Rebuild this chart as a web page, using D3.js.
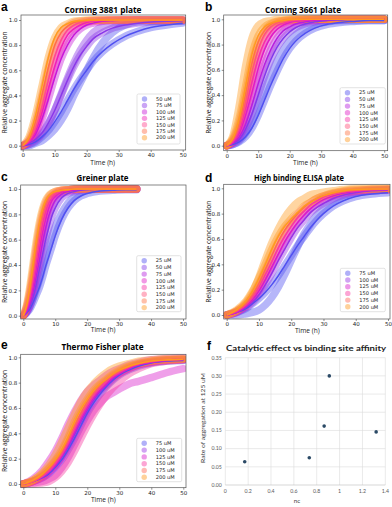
<!DOCTYPE html>
<html>
<head>
<meta charset="utf-8">
<script src="https://cdn.jsdelivr.net/npm/d3@7"></script>
<style>
body { margin: 0; background: #fff; }
svg { display: block; }
</style>
</head>
<body>
<svg id="fig" width="392" height="507"></svg>
<script>
// ---- data ----

// a: Corning 3881 plate
const concA = ["50 uM", "75 uM", "100 uM", "125 uM", "150 uM", "175 uM", "200 uM"];
const timeA = [0, 2, 4, 6, 8, 10, 12, 14, 16, 18, 20, 22, 25, 28, 32, 36, 40, 45, 50];
const fitA = [
	[0.00, 0.01, 0.03, 0.07, 0.12, 0.19, 0.27, 0.36, 0.45, 0.53, 0.60, 0.67, 0.75, 0.81, 0.87, 0.91, 0.94, 0.96, 0.975],
	[0.00, 0.02, 0.05, 0.10, 0.18, 0.28, 0.40, 0.52, 0.63, 0.72, 0.79, 0.85, 0.90, 0.935, 0.96, 0.975, 0.985, 0.99, 0.995],
	[0.00, 0.03, 0.09, 0.21, 0.37, 0.54, 0.69, 0.80, 0.88, 0.93, 0.96, 0.975, 0.99, 0.995, 1, 1, 1, 1, 1],
	[0.00, 0.03, 0.11, 0.26, 0.45, 0.63, 0.78, 0.88, 0.93, 0.96, 0.98, 0.99, 0.995, 1, 1, 1, 1, 1, 1],
	[0.00, 0.04, 0.14, 0.31, 0.52, 0.71, 0.84, 0.92, 0.96, 0.98, 0.99, 0.995, 1, 1, 1, 1, 1, 1, 1],
	[0.00, 0.05, 0.19, 0.40, 0.62, 0.80, 0.90, 0.95, 0.98, 0.99, 0.995, 1, 1, 1, 1, 1, 1, 1, 1],
	[0.00, 0.07, 0.24, 0.47, 0.70, 0.86, 0.94, 0.97, 0.99, 0.995, 1, 1, 1, 1, 1, 1, 1, 1, 1]
];
const obsA50 = [0.00, 0.00, 0.02, 0.04, 0.08, 0.13, 0.20, 0.29, 0.40, 0.50, 0.60, 0.70, 0.82, 0.90, 0.96, 0.985, 0.99, 0.99, 0.99];
const obsA75 = [0.00, 0.01, 0.04, 0.09, 0.17, 0.28, 0.41, 0.54, 0.66, 0.76, 0.84, 0.90, 0.95, 0.975, 0.99, 1, 1, 1, 1];
const obsA = [[obsA50], [obsA75], null, null, null, null, null];

// b: Corning 3661 plate
const concB = ["25 uM", "50 uM", "75 uM", "100 uM", "125 uM", "150 uM", "175 uM", "200 uM"];
const timeB = [0, 2, 4, 6, 8, 10, 12, 14, 16, 18, 20, 22, 25, 28, 32, 36, 40, 45, 50];
const fitB = [
	[0.00, 0.01, 0.03, 0.07, 0.14, 0.24, 0.36, 0.48, 0.59, 0.69, 0.77, 0.83, 0.89, 0.93, 0.96, 0.975, 0.983, 0.99, 0.99],
	[0.00, 0.02, 0.05, 0.13, 0.25, 0.40, 0.55, 0.68, 0.78, 0.85, 0.90, 0.935, 0.965, 0.98, 0.99, 0.995, 1, 1, 1],
	[0.00, 0.02, 0.07, 0.17, 0.32, 0.49, 0.64, 0.76, 0.85, 0.91, 0.94, 0.965, 0.98, 0.99, 0.995, 1, 1, 1, 1],
	[0.00, 0.03, 0.10, 0.24, 0.42, 0.61, 0.76, 0.86, 0.92, 0.955, 0.975, 0.985, 0.99, 0.995, 1, 1, 1, 1, 1],
	[0.00, 0.03, 0.12, 0.29, 0.50, 0.69, 0.82, 0.90, 0.95, 0.97, 0.985, 0.99, 0.995, 1, 1, 1, 1, 1, 1],
	[0.00, 0.04, 0.15, 0.35, 0.58, 0.76, 0.88, 0.94, 0.97, 0.985, 0.99, 0.995, 1, 1, 1, 1, 1, 1, 1],
	[0.00, 0.05, 0.18, 0.41, 0.65, 0.82, 0.91, 0.96, 0.98, 0.99, 0.995, 1, 1, 1, 1, 1, 1, 1, 1],
	[0.00, 0.06, 0.22, 0.47, 0.72, 0.87, 0.94, 0.97, 0.985, 0.99, 1, 1, 1, 1, 1, 1, 1, 1, 1]
];
const obsB25 = [0.00, 0.01, 0.04, 0.10, 0.19, 0.31, 0.44, 0.56, 0.67, 0.76, 0.83, 0.88, 0.93, 0.96, 0.98, 0.99, 0.99, 0.99, 0.99];
const obsB200 = [0.00, 0.08, 0.32, 0.63, 0.85, 0.95, 0.98, 0.99, 1, 1, 1, 1, 1, 1, 1, 1, 1, 1, 1];
const obsB = [[obsB25], null, null, null, null, null, null, [obsB200]];

// c: Greiner plate
const concC = ["25 uM", "50 uM", "75 uM", "100 uM", "125 uM", "150 uM", "175 uM", "200 uM"];
const timeC = [0, 1, 2, 3, 4, 5, 6, 7, 8, 9, 10, 12, 14, 16, 18, 20, 24, 28, 32, 35.5];
const fitC = [
	[0.00, 0.02, 0.05, 0.10, 0.16, 0.22, 0.30, 0.39, 0.47, 0.55, 0.63, 0.76, 0.85, 0.91, 0.945, 0.965, 0.985, 0.99, 0.995, 0.995],
	[0.00, 0.02, 0.07, 0.14, 0.24, 0.36, 0.48, 0.60, 0.70, 0.79, 0.85, 0.93, 0.965, 0.98, 0.99, 0.995, 1, 1, 1, 1],
	[0.00, 0.03, 0.09, 0.18, 0.30, 0.43, 0.57, 0.69, 0.79, 0.86, 0.91, 0.96, 0.98, 0.99, 0.995, 1, 1, 1, 1, 1],
	[0.00, 0.04, 0.11, 0.22, 0.36, 0.51, 0.65, 0.76, 0.85, 0.91, 0.94, 0.975, 0.99, 0.995, 1, 1, 1, 1, 1, 1],
	[0.00, 0.05, 0.14, 0.27, 0.42, 0.58, 0.72, 0.82, 0.89, 0.93, 0.96, 0.985, 0.99, 1, 1, 1, 1, 1, 1, 1],
	[0.00, 0.06, 0.16, 0.31, 0.48, 0.64, 0.77, 0.86, 0.92, 0.95, 0.97, 0.99, 0.995, 1, 1, 1, 1, 1, 1, 1],
	[0.00, 0.07, 0.19, 0.35, 0.53, 0.69, 0.81, 0.89, 0.94, 0.965, 0.98, 0.99, 0.995, 1, 1, 1, 1, 1, 1, 1],
	[0.00, 0.08, 0.22, 0.40, 0.58, 0.73, 0.84, 0.91, 0.95, 0.97, 0.98, 0.99, 0.995, 1, 1, 1, 1, 1, 1, 1]
];
const obsC25 = [0.00, 0.03, 0.07, 0.13, 0.20, 0.28, 0.37, 0.46, 0.55, 0.63, 0.70, 0.81, 0.89, 0.94, 0.97, 0.99, 1.0, 1.01, 1.01, 1.0];
const obsC = [[obsC25], null, null, null, null, null, null, null];

// d: High binding ELISA plate
const concD = ["75 uM", "100 uM", "125 uM", "150 uM", "175 uM", "200 uM"];
const timeD = [0, 3, 6, 8, 10, 12, 14, 16, 18, 20, 22, 24, 26, 28, 30, 33, 36, 40, 45, 50];
const fitD = [
	[0.00, 0.02, 0.05, 0.09, 0.13, 0.18, 0.24, 0.31, 0.39, 0.47, 0.55, 0.62, 0.69, 0.75, 0.80, 0.86, 0.90, 0.935, 0.955, 0.965],
	[0.00, 0.02, 0.06, 0.10, 0.16, 0.24, 0.33, 0.43, 0.52, 0.61, 0.69, 0.75, 0.81, 0.85, 0.88, 0.92, 0.945, 0.965, 0.98, 0.985],
	[0.00, 0.02, 0.07, 0.12, 0.19, 0.28, 0.38, 0.48, 0.58, 0.66, 0.73, 0.79, 0.84, 0.88, 0.91, 0.94, 0.96, 0.975, 0.985, 0.99],
	[0.00, 0.03, 0.08, 0.14, 0.22, 0.32, 0.42, 0.53, 0.62, 0.70, 0.77, 0.82, 0.87, 0.90, 0.93, 0.955, 0.97, 0.98, 0.99, 0.99],
	[0.00, 0.03, 0.09, 0.16, 0.25, 0.36, 0.47, 0.58, 0.67, 0.74, 0.80, 0.85, 0.89, 0.92, 0.94, 0.96, 0.975, 0.985, 0.99, 0.995],
	[0.00, 0.04, 0.11, 0.19, 0.29, 0.40, 0.52, 0.62, 0.70, 0.76, 0.81, 0.86, 0.89, 0.92, 0.94, 0.965, 0.98, 0.99, 0.995, 0.995]
];
const obsD75 = [0.00, 0.00, 0.01, 0.02, 0.04, 0.08, 0.14, 0.22, 0.32, 0.43, 0.54, 0.64, 0.72, 0.79, 0.84, 0.90, 0.94, 0.97, 0.98, 0.99];
const obsD200 = [0.00, 0.03, 0.10, 0.18, 0.30, 0.44, 0.57, 0.68, 0.77, 0.84, 0.89, 0.92, 0.95, 0.96, 0.97, 0.98, 0.99, 1, 1, 1];
const obsD = [[obsD75], null, null, null, null, [obsD200]];

// e: Thermo Fisher plate
const concE = ["75 uM", "100 uM", "125 uM", "150 uM", "175 uM", "200 uM"];
const timeE = [0, 3, 6, 8, 10, 12, 14, 16, 18, 20, 22, 24, 26, 28, 30, 33, 36, 40, 45, 50];
const fitE = [
	[0.00, 0.02, 0.05, 0.08, 0.13, 0.19, 0.27, 0.36, 0.46, 0.56, 0.64, 0.71, 0.77, 0.82, 0.86, 0.90, 0.93, 0.955, 0.97, 0.975],
	[0.00, 0.02, 0.05, 0.09, 0.14, 0.21, 0.29, 0.39, 0.49, 0.58, 0.66, 0.73, 0.78, 0.83, 0.87, 0.91, 0.94, 0.96, 0.975, 0.98],
	[0.00, 0.02, 0.06, 0.10, 0.15, 0.22, 0.31, 0.41, 0.51, 0.60, 0.68, 0.74, 0.79, 0.84, 0.87, 0.91, 0.94, 0.96, 0.975, 0.98],
	[0.00, 0.02, 0.06, 0.10, 0.16, 0.23, 0.32, 0.43, 0.53, 0.62, 0.70, 0.76, 0.81, 0.85, 0.88, 0.92, 0.945, 0.965, 0.98, 0.985],
	[0.00, 0.02, 0.07, 0.12, 0.18, 0.25, 0.35, 0.46, 0.56, 0.65, 0.72, 0.78, 0.82, 0.86, 0.89, 0.925, 0.95, 0.97, 0.98, 0.985],
	[0.00, 0.03, 0.08, 0.13, 0.19, 0.27, 0.37, 0.49, 0.59, 0.67, 0.74, 0.79, 0.83, 0.87, 0.90, 0.93, 0.95, 0.97, 0.98, 0.985]
];
const obsE125Lead = [0.00, 0.04, 0.11, 0.18, 0.26, 0.36, 0.47, 0.57, 0.66, 0.73, 0.78, 0.82, 0.86, 0.89, 0.91, 0.94, 0.96, 0.98, 0.99, 1.0];
const obsE125Lag = [0.00, 0.01, 0.02, 0.04, 0.07, 0.13, 0.21, 0.31, 0.41, 0.50, 0.58, 0.64, 0.69, 0.72, 0.75, 0.79, 0.81, 0.84, 0.88, 0.91];
const obsE150Lag = [0.00, 0.00, 0.01, 0.02, 0.05, 0.10, 0.17, 0.26, 0.36, 0.46, 0.55, 0.63, 0.70, 0.76, 0.81, 0.87, 0.91, 0.95, 0.97, 0.98];
const obsE200 = [0.00, 0.03, 0.09, 0.15, 0.23, 0.33, 0.44, 0.55, 0.65, 0.73, 0.79, 0.84, 0.88, 0.91, 0.93, 0.95, 0.97, 0.98, 0.99, 0.99];
const obsE = [null, null, [obsE125Lead, obsE125Lag], [obsE150Lag], null, [obsE200]];

// f: catalytic effect vs binding site affinity
const ncF = [0.17, 0.735, 0.865, 0.91, 1.32];
const rateF = [0.064, 0.075, 0.162, 0.30, 0.146];
const xTicksF = [0, 0.2, 0.4, 0.6, 0.8, 1, 1.2, 1.4];
const yTicksF = [0, 0.05, 0.10, 0.15, 0.20, 0.25, 0.30, 0.35];

const timeTicks = [0, 10, 20, 30, 40, 50];
const fracTicks = [0, 0.2, 0.4, 0.6, 0.8, 1.0];

// ---- drawing ----
const fig = d3.select("#fig");
const ramp = d3.piecewise(d3.interpolateRgb, ["#5050f0", "#8a38e8", "#c818d8", "#f020b8", "#ff4890", "#ff6c48", "#ff9a20"]);
const sans = "'Open Sans', 'Noto Sans', sans-serif";

function panelLetter(txt, x, y) {
	fig.append("text").attr("x", x).attr("y", y)
		.attr("font-family", "'Liberation Sans', Arial, sans-serif")
		.attr("font-weight", "bold").attr("font-size", 12).text(txt);
}

//draws one kinetics panel: scatter bands, fitted curves, frame, axes and legend
function drawKinetics(p) {
	const g = fig.append("g");
	const x = d3.scaleLinear().domain([0, 50]).range([p.x0, p.x50]);
	const y = d3.scaleLinear().domain([0, 1]).range([p.y0, p.y1]);
	const n = p.conc.length;
	const col = i => ramp(i / (n - 1));

	g.append("clipPath").attr("id", "clip" + p.letter)
		.append("rect").attr("x", p.left).attr("y", p.top)
		.attr("width", p.right - p.left).attr("height", p.bottom - p.top);

	const line = d3.line()
		.x((d, i) => x(p.time[i]))
		.y(d => y(d))
		.curve(d3.curveMonotoneX);

	const plot = g.append("g").attr("clip-path", `url(#clip${p.letter})`);

	//scatter clouds as wide translucent bands
	p.fit.forEach((vals, i) => {
		const reps = [vals].concat(p.obs[i] || []);
		reps.forEach(r => {
			plot.append("path").attr("d", line(r))
				.attr("fill", "none").attr("stroke", col(i))
				.attr("stroke-opacity", 0.42)
				.attr("stroke-width", p.band)
				.attr("stroke-linecap", "round").attr("stroke-linejoin", "round");
		});
	});

	//fitted curves
	p.fit.forEach((vals, i) => {
		plot.append("path").attr("d", line(vals))
			.attr("fill", "none").attr("stroke", col(i)).attr("stroke-width", 1.5);
	});

	//frame
	g.append("rect").attr("x", p.left).attr("y", p.top)
		.attr("width", p.right - p.left).attr("height", p.bottom - p.top)
		.attr("fill", "none").attr("stroke", "#555").attr("stroke-width", 0.7);

	const ax = g.append("g").attr("transform", `translate(0,${p.bottom})`)
		.call(d3.axisBottom(x).tickValues(timeTicks).tickSize(2).tickPadding(1.5));
	const ay = g.append("g").attr("transform", `translate(${p.left},0)`)
		.call(d3.axisLeft(y).tickValues(fracTicks).tickFormat(d3.format(".1f")).tickSize(2).tickPadding(1.5));
	[ax, ay].forEach(a => {
		a.select(".domain").remove();
		a.selectAll("line").attr("stroke", "#444").attr("stroke-width", 0.6);
		a.selectAll("text").attr("font-size", 5.5).attr("font-family", "'DejaVu Sans', sans-serif").attr("fill", "#222");
	});

	panelLetter(p.letter, p.letterX, p.letterY);

	g.append("text").attr("x", p.titleX).attr("y", p.titleY)
		.attr("text-anchor", "middle").attr("font-family", sans)
		.attr("font-weight", "bold").attr("font-size", 8.5)
		.attr("textLength", p.titleW).attr("lengthAdjust", "spacingAndGlyphs")
		.text(p.title);

	g.append("text").attr("x", (p.x0 + p.x50) / 2).attr("y", p.xLabelY)
		.attr("text-anchor", "middle").attr("font-family", sans)
		.attr("font-size", 6.6).attr("fill", "#222").text("Time (h)");

	g.append("text")
		.attr("transform", `translate(${p.yLabelX},${(p.top + p.bottom) / 2}) rotate(-90)`)
		.attr("text-anchor", "middle").attr("font-family", sans)
		.attr("font-size", 6.4).attr("fill", "#222")
		.attr("textLength", 102).attr("lengthAdjust", "spacingAndGlyphs")
		.text("Relative aggregate concentration");

	//legend
	const lg = g.append("g");
	lg.append("rect").attr("x", p.legX).attr("y", p.legY)
		.attr("width", p.legW).attr("height", p.legH).attr("rx", 1.5)
		.attr("fill", "#fff").attr("fill-opacity", 0.85)
		.attr("stroke", "#d0d0d0").attr("stroke-width", 0.6);
	const rows = lg.selectAll("g.row").data(p.conc).join("g")
		.attr("transform", (d, i) => `translate(${p.legX}, ${p.legY + 5 + i * p.legStep})`);
	rows.append("circle").attr("cx", 7.5).attr("cy", 0).attr("r", 2.7)
		.attr("fill", (d, i) => col(i)).attr("fill-opacity", 0.45);
	rows.append("text").attr("x", 19).attr("y", 0).attr("dy", "0.35em")
		.attr("font-family", "'DejaVu Sans', sans-serif").attr("font-size", 5.1)
		.attr("fill", "#222").text(d => d);
}

drawKinetics({letter: "a", title: "Corning 3881 plate", conc: concA, time: timeA, fit: fitA, obs: obsA,
	left: 21, right: 185.7, top: 15, bottom: 150, x0: 22.7, x50: 182.7, y0: 145.7, y1: 20,
	letterX: 1, letterY: 11, titleX: 103, titleY: 12.5, titleW: 77, xLabelY: 165, yLabelX: 6.5,
	legX: 137, legY: 94, legW: 43, legH: 50, legStep: 6.45, band: 7.5});

drawKinetics({letter: "b", title: "Corning 3661 plate", conc: concB, time: timeB, fit: fitB, obs: obsB,
	left: 223.7, right: 387.7, top: 15, bottom: 150.7, x0: 226.7, x50: 384.2, y0: 145.7, y1: 19.3,
	letterX: 205, letterY: 11, titleX: 303, titleY: 12.5, titleW: 76, xLabelY: 165, yLabelX: 210.5,
	legX: 340, legY: 87.7, legW: 45.3, legH: 56.3, legStep: 6.7, band: 7.5});

drawKinetics({letter: "c", title: "Greiner plate", conc: concC, time: timeC, fit: fitC, obs: obsC,
	left: 20.7, right: 186, top: 185, bottom: 319, x0: 23.3, x50: 183, y0: 315.7, y1: 189,
	letterX: 1, letterY: 181, titleX: 102.5, titleY: 180.5, titleW: 52, xLabelY: 331.5, yLabelX: 6.5,
	legX: 136.7, legY: 255.7, legW: 44.3, legH: 56, legStep: 6.7, band: 7.5});

drawKinetics({letter: "d", title: "High binding ELISA plate", conc: concD, time: timeD, fit: fitD, obs: obsD,
	left: 223.7, right: 390, top: 184.3, bottom: 319, x0: 226.7, x50: 388, y0: 315, y1: 188.3,
	letterX: 205, letterY: 182, titleX: 299, titleY: 181, titleW: 90, xLabelY: 333, yLabelX: 210.5,
	legX: 340.3, legY: 268.3, legW: 45, legH: 43.4, legStep: 6.7, band: 7.5});

drawKinetics({letter: "e", title: "Thermo Fisher plate", conc: concE, time: timeE, fit: fitE, obs: obsE,
	left: 20.7, right: 186, top: 354.3, bottom: 487.7, x0: 23.3, x50: 183.3, y0: 484, y1: 357.3,
	letterX: 1, letterY: 349, titleX: 102.5, titleY: 350, titleW: 82, xLabelY: 501.5, yLabelX: 6.5,
	legX: 136.7, legY: 438.3, legW: 45, legH: 43.4, legStep: 6.8, band: 7.5});

// ---- panel f ----
(function () {
	const g = fig.append("g");
	const x = d3.scaleLinear().domain([0, 1.4]).range([225.3, 385.3]);
	const y = d3.scaleLinear().domain([0, 0.35]).range([485, 357.7]);
	const fontF = "Lato, 'Open Sans', sans-serif";

	g.selectAll("line.vg").data(xTicksF).join("line")
		.attr("x1", d => x(d)).attr("x2", d => x(d))
		.attr("y1", y(0.35)).attr("y2", y(0))
		.attr("stroke", "#dcdcdc").attr("stroke-width", 0.6);
	g.selectAll("line.hg").data(yTicksF).join("line")
		.attr("x1", x(0)).attr("x2", x(1.4))
		.attr("y1", d => y(d)).attr("y2", d => y(d))
		.attr("stroke", d => d === 0 ? "#bdbdbd" : "#dcdcdc").attr("stroke-width", 0.6);

	g.selectAll("text.xt").data(xTicksF).join("text")
		.attr("x", d => x(d)).attr("y", y(0) + 7.5)
		.attr("text-anchor", "middle").attr("font-family", fontF)
		.attr("font-size", 5.2).attr("fill", "#595959")
		.text(d => d3.format("~g")(d));
	g.selectAll("text.yt").data(yTicksF).join("text")
		.attr("x", x(0) - 3.5).attr("y", d => y(d)).attr("dy", "0.35em")
		.attr("text-anchor", "end").attr("font-family", fontF)
		.attr("font-size", 5.2).attr("fill", "#595959")
		.text(d => d3.format(".2f")(d));

	g.selectAll("circle.pt").data(ncF).join("circle")
		.attr("cx", d => x(d)).attr("cy", (d, i) => y(rateF[i]))
		.attr("r", 1.8).attr("fill", "#2b4a66");

	panelLetter("f", 207, 350);
	g.append("text").attr("x", 306).attr("y", 350.5)
		.attr("text-anchor", "middle").attr("font-family", fontF)
		.attr("font-weight", "bold").attr("font-size", 8)
		.attr("textLength", 160).attr("lengthAdjust", "spacingAndGlyphs")
		.attr("fill", "#222")
		.text("Catalytic effect vs binding site affinity");
	g.append("text").attr("x", 297).attr("y", 503)
		.attr("text-anchor", "middle").attr("font-family", fontF)
		.attr("font-size", 6.2).attr("fill", "#404040").text("nc");
	g.append("text")
		.attr("transform", `translate(205,418) rotate(-90)`)
		.attr("text-anchor", "middle").attr("font-family", fontF)
		.attr("font-size", 6.2).attr("fill", "#404040")
		.attr("textLength", 90).attr("lengthAdjust", "spacingAndGlyphs")
		.text("Rate of aggregation at 125 uM");
})();
</script>
</body>
</html>
